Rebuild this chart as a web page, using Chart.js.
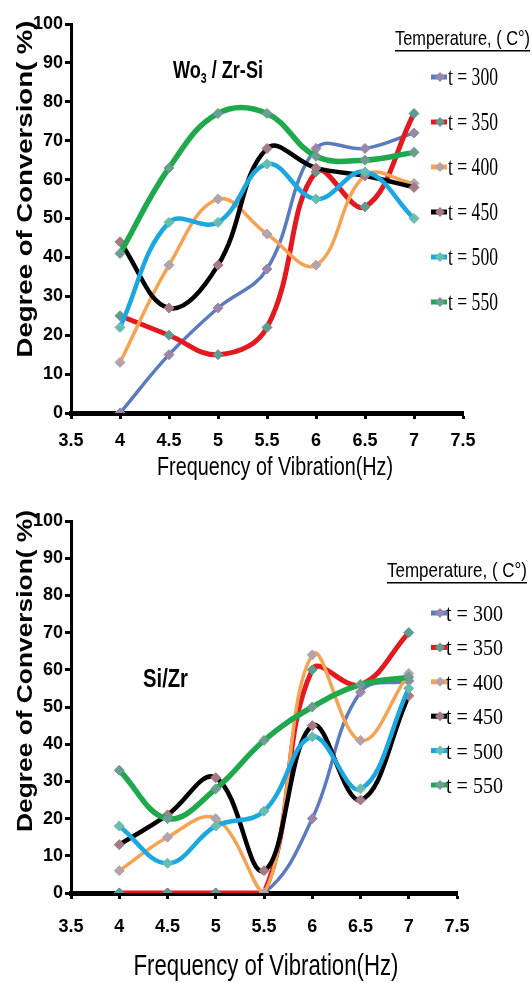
<!DOCTYPE html>
<html>
<head>
<meta charset="utf-8">
<script src="https://cdn.jsdelivr.net/npm/chart.js@4.4.1/dist/chart.umd.min.js"></script>
<style>
  html, body { margin: 0; padding: 0; background: #fff; }
  .panel { position: absolute; left: 0; width: 532px; }
  #topPanel { top: 0; height: 490px; }
  #bottomPanel { top: 490px; height: 493px; }
</style>
</head>
<body>
<div class="panel" id="topPanel"><canvas id="wzsChart"></canvas></div>
<div class="panel" id="bottomPanel"><canvas id="szChart"></canvas></div>
<script>
// Frequency of vibration (Hz) and temperature series
const frequencies = [4, 4.5, 5, 5.5, 6, 6.5, 7];
const temperatures = ['t = 300', 't = 350', 't = 400', 't = 450', 't = 500', 't = 550'];
const xTicks = [3.5, 4, 4.5, 5, 5.5, 6, 6.5, 7, 7.5];
const yTicks = [0, 10, 20, 30, 40, 50, 60, 70, 80, 90, 100];

// Degree of conversion (%) on WO3 / Zr-Si
const wzs300 = [0, 15, 27, 37, 68, 68, 72];
const wzs350 = [25, 20, 15, 22, 62, 53, 77];
const wzs400 = [13, 38, 55, 46, 38, 61, 59];
const wzs450 = [44, 27, 38, 68, 63, 61, 58];
const wzs500 = [22, 49, 49, 64, 55, 62, 50];
const wzs550 = [41, 63, 77, 77, 66, 65, 67];

// Degree of conversion (%) on Si / Zr
const sz300 = [0, 0, 0, 0, 20, 54, 57];
const sz350 = [0, 0, 0, 0, 60, 56, 70];
const sz400 = [6, 15, 20, 0, 64, 41, 59];
const sz450 = [13, 21, 31, 6, 45, 25, 53];
const sz500 = [18, 8, 18, 22, 42, 28, 55];
const sz550 = [33, 20, 28, 41, 50, 56, 58];

const lineColors = ['#5a7cbf', '#e3191f', '#f5a352', '#000000', '#1ba8e0', '#1fa84c'];
const markerColors = ['#9a86a8', '#5f9a93', '#b3a3ad', '#a57a84', '#66bdb0', '#6c9c92'];
const lineWidths = [3.5, 5, 3.5, 4.5, 4.5, 5.5];

const tickFont = { family: "'Liberation Sans Narrow', 'Liberation Sans', Arial, sans-serif", size: 18, weight: 'bold' };

// text drawn squeezed/stretched horizontally to a given width
function fitText(ctx, text, x, y, width, font, opts = {}) {
  ctx.save();
  ctx.font = font;
  ctx.fillStyle = '#000';
  ctx.textBaseline = 'alphabetic';
  ctx.textAlign = 'left';
  const w = ctx.measureText(text).width;
  ctx.translate(x, y);
  if (opts.rotate) ctx.rotate(opts.rotate);
  ctx.scale(width / w, 1);
  ctx.fillText(text, opts.center ? -w / 2 : 0, 0);
  ctx.restore();
}

function diamond(ctx, x, y, r, color) {
  ctx.beginPath();
  ctx.moveTo(x, y - r);
  ctx.lineTo(x + r, y);
  ctx.lineTo(x, y + r);
  ctx.lineTo(x - r, y);
  ctx.closePath();
  ctx.fillStyle = color;
  ctx.fill();
}

// titles, axis labels and the temperature key
function textLayer(L) {
  return {
    id: 'textLayer',
    afterDraw(chart) {
      const ctx = chart.ctx;
      const sans = "'Liberation Sans Narrow', 'Liberation Sans', sans-serif";
      const serif = "'Liberation Serif', 'DejaVu Serif', serif";

      // panel title with optional subscript
      ctx.save();
      ctx.fillStyle = '#000';
      const tf = 'bold ' + L.title.size + 'px ' + sans;
      const sf = 'bold ' + Math.round(L.title.size * 0.6) + 'px ' + sans;
      let total = 0;
      L.title.parts.forEach(p => {
        ctx.font = p.sub ? sf : tf;
        p.w = ctx.measureText(p.text).width;
        total += p.w;
      });
      ctx.translate(L.title.x, L.title.y);
      ctx.scale(L.title.width / total, 1);
      let cx = 0;
      L.title.parts.forEach(p => {
        ctx.font = p.sub ? sf : tf;
        ctx.fillText(p.text, cx, p.sub ? 5 : 0);
        cx += p.w;
      });
      ctx.restore();

      // axis titles
      fitText(ctx, 'Degree of Conversion( %)', L.yTitle.x, L.yTitle.y, L.yTitle.width,
        'bold 22px ' + "'Liberation Sans', Arial, sans-serif", { rotate: -Math.PI / 2, center: true });
      fitText(ctx, 'Frequency of Vibration(Hz)', L.xTitle.x, L.xTitle.y, L.xTitle.width,
        L.xTitle.size + 'px ' + sans, { center: true });

      // key heading, underlined
      fitText(ctx, 'Temperature, ( C°)', L.key.x, L.key.y, L.key.width, L.key.size + 'px ' + sans);
      ctx.fillStyle = '#000';
      ctx.fillRect(L.key.x, L.key.y + 5, L.key.width, 1.5);

      // key entries
      chart.data.datasets.forEach((ds, i) => {
        const y = L.key.first + i * L.key.step;
        ctx.save();
        ctx.strokeStyle = ds.borderColor;
        ctx.lineWidth = 5;
        ctx.beginPath();
        ctx.moveTo(L.key.markX - 9, y);
        ctx.lineTo(L.key.markX + 7, y);
        ctx.stroke();
        ctx.restore();
        diamond(ctx, L.key.markX, y, 5, ds.pointBackgroundColor);
        fitText(ctx, ds.label, L.key.textX, y + 8, L.key.textW, L.key.textSize + 'px ' + serif);
      });
    }
  };
}

function makeChart(id, series, L) {
  return new Chart(document.getElementById(id), {
    type: 'line',
    data: {
      datasets: series.map((values, i) => ({
        label: temperatures[i],
        data: values.map((v, j) => ({ x: frequencies[j], y: v })),
        borderColor: lineColors[i],
        borderWidth: lineWidths[i],
        pointStyle: 'rectRot',
        pointRadius: 5,
        pointBackgroundColor: markerColors[i],
        pointBorderColor: markerColors[i],
        pointBorderWidth: 1,
        tension: 0.4,
        order: series.length - 1 - i
      }))
    },
    options: {
      responsive: true,
      maintainAspectRatio: false,
      animation: false,
      layout: { padding: L.padding },
      plugins: { legend: { display: false }, tooltip: { enabled: false } },
      scales: {
        x: {
          type: 'linear',
          min: 3.5,
          max: 7.5,
          afterBuildTicks: s => { s.ticks = xTicks.map(v => ({ value: v })); },
          afterFit: s => { s.height = L.xHeight; },
          ticks: { font: tickFont, color: '#000', padding: L.xPad, maxRotation: 0, callback: v => String(v) },
          grid: { drawOnChartArea: false, drawTicks: true, tickLength: 6, tickWidth: 3, tickColor: '#000' },
          border: { display: true, color: '#000', width: 5 }
        },
        y: {
          min: 0,
          max: 100,
          afterBuildTicks: s => { s.ticks = yTicks.map(v => ({ value: v })); },
          afterFit: s => { s.width = L.yWidth; },
          ticks: { font: tickFont, color: '#000', padding: 2, callback: v => String(v) },
          grid: { drawOnChartArea: false, drawTicks: true, tickLength: 6, tickWidth: 3, tickColor: '#000' },
          border: { display: true, color: '#000', width: 3 }
        }
      }
    },
    plugins: [textLayer(L)]
  });
}

makeChart('wzsChart', [wzs300, wzs350, wzs400, wzs450, wzs500, wzs550], {
  padding: { top: 24, right: 69, left: 0, bottom: 0 },
  yWidth: 71,
  xHeight: 77,
  xPad: 11,
  title: { x: 173, y: 78, width: 90, size: 24, parts: [{ text: 'Wo' }, { text: '3', sub: true }, { text: ' / Zr-Si' }] },
  yTitle: { x: 32, y: 189, width: 337 },
  xTitle: { x: 275, y: 475, width: 236, size: 26 },
  key: { x: 395, y: 45, width: 135, size: 21, first: 77, step: 45, markX: 440, textX: 448, textW: 50, textSize: 25 }
});

makeChart('szChart', [sz300, sz350, sz400, sz450, sz500, sz550], {
  padding: { top: 31, right: 75, left: 0, bottom: 0 },
  yWidth: 71,
  xHeight: 90,
  xPad: 17,
  title: { x: 143, y: 197, width: 45, size: 25, parts: [{ text: 'Si/Zr' }] },
  yTitle: { x: 32, y: 181, width: 322 },
  xTitle: { x: 266, y: 485, width: 265, size: 30 },
  key: { x: 387, y: 87, width: 140, size: 21, first: 123, step: 34.4, markX: 440, textX: 446, textW: 57, textSize: 23 }
});
</script>
</body>
</html>
